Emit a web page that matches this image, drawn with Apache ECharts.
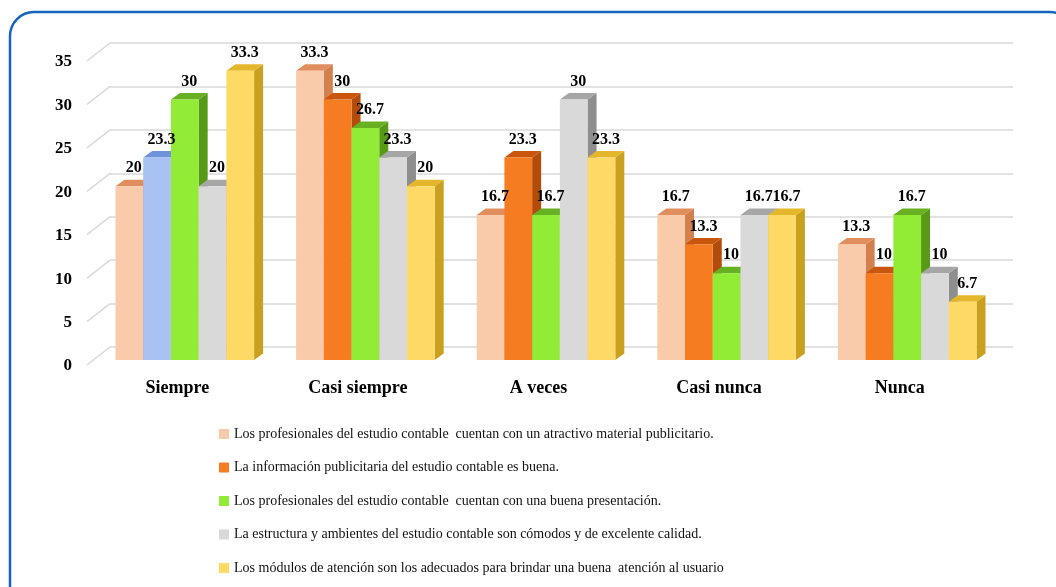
<!DOCTYPE html>
<html>
<head>
<meta charset="utf-8">
<script src="https://cdn.jsdelivr.net/npm/echarts@6/dist/echarts.min.js"></script>
<style>html,body{margin:0;padding:0;background:#fff}#c{width:1056px;height:587px}</style>
</head>
<body>
<div id="c"></div>
<script>
const categories = ['Siempre', 'Casi siempre', 'A veces', 'Casi nunca', 'Nunca'];
const seriesNames = [
  'Los profesionales del estudio contable  cuentan con un atractivo material publicitario.',
  'La información publicitaria del estudio contable es buena.',
  'Los profesionales del estudio contable  cuentan con una buena presentación.',
  'La estructura y ambientes del estudio contable son cómodos y de excelente calidad.',
  'Los módulos de atención son los adecuados para brindar una buena  atención al usuario'
];
const s1 = [20, 33.3, 16.7, 16.7, 13.3];
const s2 = [23.3, 30, 23.3, 13.3, 10];
const s3 = [30, 26.7, 16.7, 10, 16.7];
const s4 = [20, 23.3, 30, 16.7, 10];
const s5 = [33.3, 20, 23.3, 16.7, 6.7];
const yTicks = [0, 5, 10, 15, 20, 25, 30, 35];

const allSeries = [s1, s2, s3, s4, s5];
const palettes = [
  {front: '#F9CBAA', top: '#E08E5E', side: '#D47F4E'},
  {front: '#F67C22', top: '#C9560C', side: '#B24C0A'},
  {front: '#92EB35', top: '#66B021', side: '#579A17'},
  {front: '#D9D9D9', top: '#A6A6A6', side: '#8E8E8E'},
  {front: '#FFD966', top: '#E4B62B', side: '#C9A11F'}
];
// special colour of the second bar in the first group (as in the reference)
const specialPalette = {front: '#A8C2F3', top: '#6D93DA', side: '#5B80C6'};

const serifFont = '"Liberation Serif", "Times New Roman", serif';
const DX = 9, DY = -6.5;          // bar depth
const FRONT_X = -15.5, FRONT_Y = 13; // bar front offset from back wall

function makeRender(k) {
  return function (params, api) {
    const ci = api.value(0), v = api.value(1);
    const back = api.coord([ci, v]);
    const base = api.coord([ci, 0]);
    const band = api.size([1, 0])[0];
    const bw = band * 0.1535;
    const x0 = back[0] + FRONT_X - 2.5 * bw + k * bw;
    const x1 = x0 + bw;
    const yt = back[1] + FRONT_Y;
    const yb = base[1] + FRONT_Y;
    const pal = (k === 1 && ci === 0) ? specialPalette : palettes[k];
    return {
      type: 'group',
      children: [
        {type: 'polygon', shape: {points: [[x1, yt], [x1 + DX, yt + DY], [x1 + DX, yb + DY], [x1, yb]]}, style: {fill: pal.side}},
        {type: 'polygon', shape: {points: [[x0, yt], [x0 + DX, yt + DY], [x1 + DX, yt + DY], [x1, yt]]}, style: {fill: pal.top}},
        {type: 'rect', shape: {x: x0, y: yt, width: bw, height: yb - yt}, style: {fill: pal.front}},
        {type: 'text', z2: 100, style: {x: (x0 + x1) / 2 + 4.5, y: yt - 18, text: String(v), textAlign: 'center', textVerticalAlign: 'middle', fill: '#000', font: 'bold 16px ' + serifFont}}
      ]
    };
  };
}

const series = [{
  type: 'custom',
  name: 'diag',
  silent: true,
  data: yTicks.map(v => [0, v]),
  encode: {x: 0, y: 1},
  renderItem: function (params, api) {
    const v = api.value(1);
    const p = api.coord([0, v]);
    const x = params.coordSys.x;
    return {
      type: 'group',
      children: [
        {type: 'line', shape: {x1: x, y1: p[1], x2: x - 23, y2: p[1] + 18}, style: {stroke: '#D9D9D9', lineWidth: 1.5}},
        {type: 'text', style: {x: x - 38, y: p[1] + 19, text: String(v), textAlign: 'right', textVerticalAlign: 'middle', fill: '#000', font: 'bold 17px ' + serifFont}}
      ]
    };
  },
  z: 1
}];
allSeries.forEach((arr, k) => {
  series.push({
    type: 'custom',
    name: seriesNames[k],
    itemStyle: {color: palettes[k].front},
    data: arr.map((v, i) => [i, v]),
    encode: {x: 0, y: 1},
    renderItem: makeRender(k),
    z: 3
  });
});

const chart = echarts.init(document.getElementById('c'));
chart.setOption({
  backgroundColor: '#fff',
  animation: false,
  graphic: [{type: 'rect', shape: {x: 10, y: 12, width: 1064, height: 620, r: 24}, style: {fill: 'none', stroke: '#1565C0', lineWidth: 2.5}, silent: true}],
  grid: {left: 110, right: 43, top: 43, bottom: 240},
  xAxis: {
    type: 'category', data: categories,
    axisLine: {show: false}, axisTick: {show: false},
    axisLabel: {margin: 32, padding: [0, 46, 0, 0], color: '#000', fontWeight: 'bold', fontSize: 18, fontFamily: serifFont}
  },
  yAxis: {
    type: 'value', min: 0, max: 35, interval: 5,
    axisLine: {show: false}, axisTick: {show: false},
    splitLine: {lineStyle: {color: '#D9D9D9', width: 1.5}},
    axisLabel: {show: false}
  },
  legend: {
    orient: 'vertical', left: 214, top: 422,
    icon: 'rect', itemWidth: 10, itemHeight: 10, itemGap: 19.5,
    data: seriesNames,
    textStyle: {color: '#111', fontSize: 14, fontFamily: serifFont}
  },
  series: series
});
</script>
</body>
</html>
